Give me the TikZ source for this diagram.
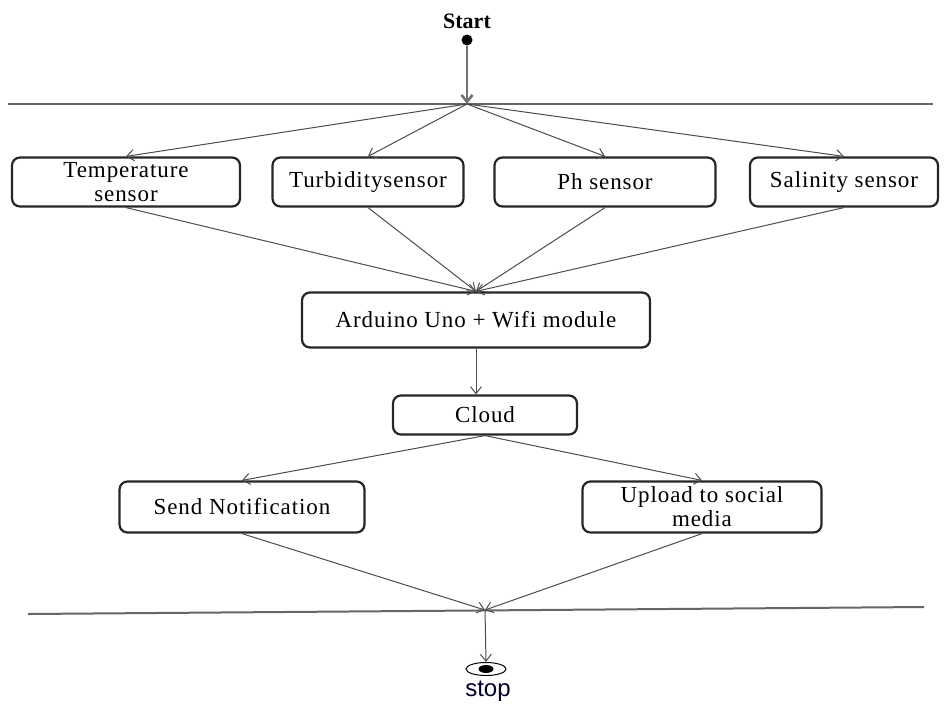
\documentclass[tikz,border=0pt]{standalone}
\usepackage{fontspec}
\setmainfont{Liberation Serif}
\newfontfamily\boxfont[LetterSpace=4]{Liberation Serif}
\newfontfamily\stopfont{Liberation Sans}
\usetikzlibrary{arrows.meta,shapes.geometric}
\tikzset{
  box/.style={draw=black!85, line width=2.2pt, rounded corners=8pt, align=center,
    inner sep=1pt, font=\boxfont\fontsize{23}{24}\selectfont},
  flow/.style={draw=black!70, line width=1pt, -{Straight Barb[length=7pt,width=11pt]}},
  bar/.style={draw=black!60, line width=2pt}
}
\begin{document}
\begin{tikzpicture}[x=1pt,y=-1pt]
  \useasboundingbox (0,0) rectangle (944,704);
  % start
  \node[font=\bfseries\fontsize{22}{22}\selectfont] (start) at (467,21) {Start};
  \node[circle, fill=black, inner sep=0pt, minimum size=11pt] (startdot) at (467,40) {};
  \coordinate (fork) at (467,104);
  \draw[bar] (8,104) -- (933,104);
  \draw[flow, draw=black!55, line width=2.6pt] (startdot) -- (fork);
  % sensors
  \foreach \x/\w/\n/\t in {126/228/temp/{Temperature\\sensor}, 368/191/turb/Turbiditysensor,
      605/221/ph/Ph sensor, 844/188/sal/Salinity sensor}
    {\node[box, minimum width=\w pt, minimum height=49pt] (\n) at (\x,182) {\t};
     \draw[flow] (fork) -- (\n.north);}
  \node[box, minimum width=348pt, minimum height=55pt] (ard) at (476,320) {Arduino Uno + Wifi module};
  \foreach \n in {temp, turb, ph, sal}
    \draw[flow] (\n.south) -- (ard.north);
  \node[box, minimum width=184pt, minimum height=39pt] (cloud) at (485,415) {Cloud};
  \draw[flow] (ard.south) -- (ard.south |- cloud.north);
  \node[box, minimum width=245pt, minimum height=51pt] (send) at (242,507) {Send Notification};
  \node[box, minimum width=239pt, minimum height=51pt] (upload) at (702,507) {Upload to social\\media};
  \draw[flow] (cloud.south) -- (send.north);
  \draw[flow] (cloud.south) -- (upload.north);
  % join and stop
  \coordinate (join) at (485,610);
  \draw[bar] (28,614) -- (924,607);
  \draw[flow] (send.south) -- (join);
  \draw[flow] (upload.south) -- (join);
  \node[ellipse, draw=black, line width=1pt, minimum width=40pt, minimum height=13pt] (stopmark) at (486,669) {};
  \node[ellipse, fill=black, inner sep=0pt, minimum width=15pt, minimum height=8pt] (stopdot) at (stopmark) {};
  \draw[flow] (join) -- (stopmark.north);
  \node[font=\stopfont\fontsize{24}{24}\selectfont, text=black!85!blue] (stop) at (488,691) {stop};
\end{tikzpicture}
\end{document}
